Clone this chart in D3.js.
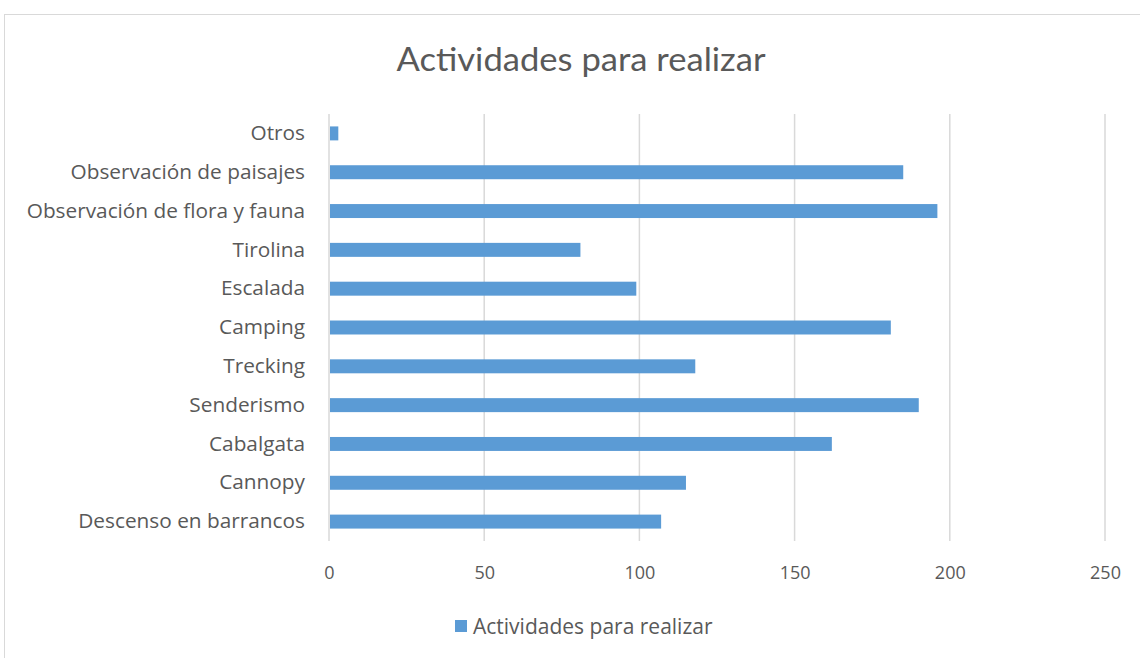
<!DOCTYPE html>
<html>
<head>
<meta charset="utf-8">
<script src="https://cdn.jsdelivr.net/npm/d3@7"></script>
<style>
  html, body { margin: 0; padding: 0; background: #fff; }
  svg { display: block; font-family: "Open Sans", sans-serif; }
</style>
</head>
<body>
<div id="chart"></div>
<script>
// Actividades para realizar - horizontal bar chart

const width = 1140;
const height = 658;

// data, top to bottom as drawn
const categories = [
  'Otros',
  'Observación de paisajes',
  'Observación de flora y fauna',
  'Tirolina',
  'Escalada',
  'Camping',
  'Trecking',
  'Senderismo',
  'Cabalgata',
  'Cannopy',
  'Descenso en barrancos'
];
const values = [3, 185, 196, 81, 99, 181, 118, 190, 162, 115, 107];
const xTicks = [0, 50, 100, 150, 200, 250];
const seriesName = 'Actividades para realizar';

const barColor = '#5b9bd5';
const textColor = '#595959';
const gridColor = '#d9d9d9';

const margin = { top: 114, right: 35, bottom: 117, left: 329 };

const svg = d3.select('#chart')
  .append('svg')
  .attr('width', width)
  .attr('height', height);

// chart border
svg.append('rect')
  .attr('x', 4.5)
  .attr('y', 14.5)
  .attr('width', width)
  .attr('height', height)
  .attr('fill', '#fff')
  .attr('stroke', gridColor)
  .attr('stroke-width', 1);

const x = d3.scaleLinear()
  .domain([0, 250])
  .range([margin.left, width - margin.right]);

const y = d3.scaleBand()
  .domain(categories)
  .range([margin.top, height - margin.bottom])
  .paddingInner(0.64)
  .paddingOuter(0.32);

// gridlines
svg.append('g')
  .selectAll('line')
  .data(xTicks)
  .enter().append('line')
  .attr('x1', d => x(d))
  .attr('x2', d => x(d))
  .attr('y1', margin.top)
  .attr('y2', height - margin.bottom)
  .attr('stroke', gridColor)
  .attr('stroke-width', 1.5);

// bars
svg.append('g')
  .selectAll('rect')
  .data(values)
  .enter().append('rect')
  .attr('x', x(0) + 1)
  .attr('y', (d, i) => y(categories[i]))
  .attr('width', d => x(d) - x(0) - 1)
  .attr('height', y.bandwidth())
  .attr('fill', barColor);

// x axis labels
const xAxis = d3.axisBottom(x)
  .tickValues(xTicks)
  .tickSize(0)
  .tickPadding(0);

const gx = svg.append('g')
  .attr('transform', `translate(0,${height - margin.bottom + 25})`)
  .call(xAxis);
gx.select('.domain').remove();
gx.selectAll('text')
  .attr('fill', textColor)
  .attr('font-size', '18px')
  .attr('font-family', '"Open Sans", sans-serif');

// y axis labels
const yAxis = d3.axisLeft(y)
  .tickSize(0)
  .tickPadding(24);

const gy = svg.append('g')
  .attr('transform', `translate(${margin.left},0)`)
  .call(yAxis);
gy.select('.domain').remove();
gy.selectAll('text')
  .attr('fill', textColor)
  .attr('font-size', '20.8px')
  .attr('font-family', '"Open Sans", sans-serif');

// title
svg.append('text')
  .attr('x', 581)
  .attr('y', 71)
  .attr('text-anchor', 'middle')
  .attr('fill', textColor)
  .attr('font-family', 'Lato, sans-serif')
  .attr('font-size', '33px')
  .attr('textLength', 369)
  .attr('lengthAdjust', 'spacingAndGlyphs')
  .text(seriesName);

// legend
const legend = svg.append('g').attr('transform', 'translate(455,620)');
legend.append('rect')
  .attr('width', 12)
  .attr('height', 12)
  .attr('fill', barColor);
legend.append('text')
  .attr('x', 18)
  .attr('y', 14)
  .attr('fill', textColor)
  .attr('font-size', '21px')
  .text(seriesName);
</script>
</body>
</html>
